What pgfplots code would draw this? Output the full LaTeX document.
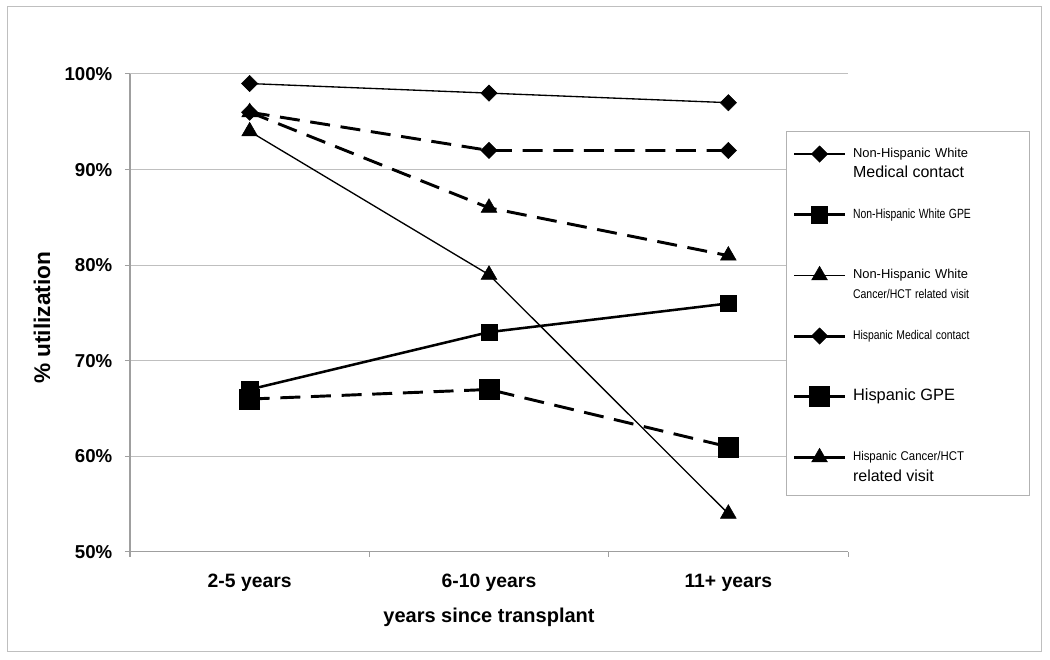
\documentclass[border=0pt]{standalone}
\usepackage{fontspec}
\setmainfont{Liberation Sans}
\usepackage{graphicx}
\usepackage{pgfplots}
\pgfplotsset{compat=1.18}
\begin{document}
\begin{tikzpicture}
\path[use as bounding box] (0,0) rectangle (787.5pt,495pt);
\draw[gray!50, line width=0.75pt] (5.25pt,6pt) rectangle (780.75pt,489.75pt);
\begin{axis}[
  at={(97.5pt,81pt)}, anchor=south west,
  scale only axis, width=538.5pt, height=358.5pt,
  xmin=-0.5, xmax=2.5, ymin=50, ymax=100,
  axis x line*=bottom, axis y line*=left,
  axis line style={gray!75, line width=0.75pt, -},
  ymajorgrids, grid style={gray!50, line width=0.75pt},
  tick align=outside, major tick length=3.75pt,
  tick style={gray!75, line width=0.75pt},
  ytick={50,60,...,100},
  /pgf/number format/assume math mode=true,
  yticklabel={\pgfmathprintnumber{\tick}\%},
  yticklabel style={font=\fontsize{14}{16}\selectfont\bfseries, xshift=-6pt},
  xtick={-0.5,0.5,1.5,2.5}, xticklabels={,,,},
  extra x ticks={0,1,2},
  extra x tick labels={2-5 years,6-10 years,11+ years},
  extra x tick style={major tick length=0pt, tick label style={font=\fontsize{14.5}{17}\selectfont\bfseries, yshift=-13pt}},
  xlabel={years since transplant},
  xlabel style={at={(axis description cs:0.5,-0.137)}, anchor=center, font=\fontsize{15}{18}\selectfont\bfseries},
  ylabel={\% utilization},
  ylabel style={at={(axis description cs:-0.1226,0.49)}, anchor=center, font=\fontsize{17}{20}\selectfont\bfseries},
  legend style={at={(0.914,0.881)}, anchor=north west, draw=gray!60, line width=0.75pt,
    inner xsep=4.5pt, inner ysep=0pt, column sep=5pt, row sep=0pt,
    nodes={inner sep=0pt, text height=19.5pt, text depth=26pt, text width=128pt},
    cells={anchor=base west}},
  legend image code/.code={\draw[mark repeat=2,mark phase=2,#1] plot coordinates {(0pt,2.5pt) (19pt,2.5pt) (38pt,2.5pt)};},
  legend image post style={solid},
]
\addplot[black, line width=1pt, mark=diamond*, mark size=6.1pt, mark options={solid, xscale=1.33, line width=0.4pt}]
  coordinates {(0,99) (1,98) (2,97)};
\addlegendentry{\rlap{\raisebox{-15pt}[0pt][0pt]{\fontsize{12}{14}\selectfont Medical contact}}{\fontsize{9.7}{11}\selectfont Non-Hispanic White}}
\addplot[black, line width=1.9pt, mark=square*, mark size=6.1pt, mark options={solid, line width=0.4pt}]
  coordinates {(0,67) (1,73) (2,76)};
\addlegendentry{\scalebox{0.78}[1]{\fontsize{10}{12}\selectfont Non-Hispanic White GPE}}
\addplot[black, line width=1pt, mark=triangle*, mark size=6.8pt, mark options={solid, line width=0.4pt}]
  coordinates {(0,94) (1,79) (2,54)};
\addlegendentry{\rlap{\raisebox{-15pt}[0pt][0pt]{\scalebox{0.83}[1]{\fontsize{9.5}{11}\selectfont Cancer/HCT related visit}}}{\fontsize{9.7}{11}\selectfont Non-Hispanic White}}
\addplot[black, line width=2.2pt, dash pattern=on 15pt off 8pt, mark=diamond*, mark size=6.1pt, mark options={solid, xscale=1.33, line width=0.4pt}]
  coordinates {(0,96) (1,92) (2,92)};
\addlegendentry{\scalebox{0.82}[1]{\fontsize{9.5}{11}\selectfont Hispanic Medical contact}}
\addplot[black, line width=2.2pt, dash pattern=on 15pt off 8pt, mark=square*, mark size=7.5pt, mark options={solid, line width=0.4pt}]
  coordinates {(0,66) (1,67) (2,61)};
\addlegendentry{{\fontsize{12.3}{14}\selectfont Hispanic GPE}}
\addplot[black, line width=2.2pt, dash pattern=on 15pt off 8pt, mark=triangle*, mark size=6.8pt, mark options={solid, line width=0.4pt}]
  coordinates {(0,96) (1,86) (2,81)};
\addlegendentry{\rlap{\raisebox{-15.5pt}[0pt][0pt]{\fontsize{12}{14}\selectfont related visit}}\scalebox{0.9}[1]{\fontsize{9.5}{11}\selectfont Hispanic Cancer/HCT}}
\end{axis}
\end{tikzpicture}
\end{document}
